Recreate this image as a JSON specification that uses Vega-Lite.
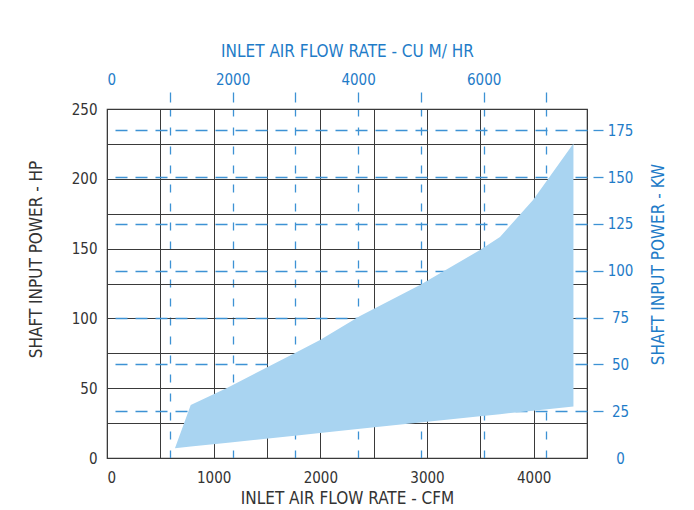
{
  "$schema": "https://vega.github.io/schema/vega-lite/v6.json",
  "width": 480,
  "height": 349,
  "autosize": {"type": "none"},
  "padding": {"left": 107, "top": 109, "right": 107, "bottom": 52},
  "background": "white",
  "config": {
    "font": "DejaVu Sans Condensed, Liberation Sans, sans-serif",
    "view": {"stroke": "#3a3a3a", "strokeWidth": 1.2},
    "axis": {
      "labelFont": "DejaVu Sans Condensed, Liberation Sans, sans-serif",
      "titleFont": "DejaVu Sans Condensed, Liberation Sans, sans-serif",
      "titleFontWeight": "normal",
      "labelFontSize": 15,
      "titleFontSize": 17,
      "zindex": 1
    }
  },
  "datasets": {
    "band": [
      {"cfm": 637, "hp_hi": 7, "hp_lo": 7},
      {"cfm": 785, "hp_hi": 38, "hp_lo": 8.2},
      {"cfm": 1134, "hp_hi": 50.5, "hp_lo": 11.0},
      {"cfm": 1781, "hp_hi": 75.9, "hp_lo": 16.2},
      {"cfm": 1997, "hp_hi": 84.5, "hp_lo": 17.9},
      {"cfm": 2372, "hp_hi": 101.7, "hp_lo": 20.9},
      {"cfm": 2934, "hp_hi": 123.9, "hp_lo": 25.4},
      {"cfm": 3497, "hp_hi": 149, "hp_lo": 29.9},
      {"cfm": 3684, "hp_hi": 158.3, "hp_lo": 31.4},
      {"cfm": 3994, "hp_hi": 184.8, "hp_lo": 33.9},
      {"cfm": 4373, "hp_hi": 225.3, "hp_lo": 36.9}
    ],
    "metric": [
      {"m3h": 0, "kw": 0},
      {"m3h": 7645.5, "kw": 186.4}
    ]
  },
  "layer": [
    {
      "data": {"name": "band"},
      "mark": {"type": "area", "color": "#a9d4f1", "opacity": 1},
      "encoding": {
        "x": {
          "field": "cfm", "type": "quantitative",
          "scale": {"domain": [0, 4500], "nice": false, "zero": false},
          "axis": {
            "orient": "bottom",
            "values": [0, 500, 1000, 1500, 2000, 2500, 3000, 3500, 4000, 4500],
            "format": "d",
            "labelExpr": "datum.value % 1000 == 0 ? datum.label : ''",
            "grid": true, "gridColor": "#3a3a3a", "gridWidth": 1, "gridOpacity": 1,
            "ticks": false, "domain": false,
            "labelPadding": 12, "labelColor": "#333333",
            "title": "INLET AIR FLOW RATE - CFM", "titleColor": "#333333", "titlePadding": 5
          }
        },
        "y": {
          "field": "hp_hi", "type": "quantitative",
          "scale": {"domain": [0, 250], "nice": false},
          "axis": {
            "orient": "left",
            "values": [0, 25, 50, 75, 100, 125, 150, 175, 200, 225, 250],
            "format": "d",
            "labelExpr": "datum.value % 50 == 0 ? datum.label : ''",
            "grid": true, "gridColor": "#3a3a3a", "gridWidth": 1, "gridOpacity": 1,
            "ticks": false, "domain": false,
            "labelPadding": 10, "labelColor": "#333333",
            "title": "SHAFT INPUT POWER - HP", "titleColor": "#333333", "titlePadding": 26,
            "titleY": 150
          }
        },
        "y2": {"field": "hp_lo"}
      }
    },
    {
      "data": {"name": "metric"},
      "mark": {"type": "point", "opacity": 0},
      "encoding": {
        "x": {
          "field": "m3h", "type": "quantitative",
          "scale": {"domain": [0, 7645.5], "nice": false},
          "axis": {
            "orient": "top",
            "values": [0, 1000, 2000, 3000, 4000, 5000, 6000, 7000],
            "format": "d",
            "labelExpr": "datum.value % 2000 == 0 ? datum.label : ''",
            "offset": 7, "tickSize": 10, "tickColor": "#3d92d4", "tickWidth": 1.3,
            "tickOpacity": {"condition": {"test": "datum.value == 0", "value": 0}, "value": 1},
            "grid": true, "gridColor": "#3d92d4", "gridWidth": 1.3, "gridDash": [8, 11],
            "gridOpacity": {"condition": {"test": "datum.value == 0", "value": 0}, "value": 1},
            "domain": false,
            "labelPadding": 5, "labelColor": "#1f7cc8",
            "title": "INLET AIR FLOW RATE - CU M/ HR", "titleColor": "#1f7cc8", "titlePadding": 12
          }
        },
        "y": {
          "field": "kw", "type": "quantitative",
          "scale": {"domain": [0, 186.425], "nice": false},
          "axis": {
            "orient": "right",
            "values": [0, 25, 50, 75, 100, 125, 150, 175],
            "format": "d",
            "offset": 6, "tickSize": 10, "tickColor": "#3d92d4", "tickWidth": 1.3,
            "tickOpacity": {"condition": {"test": "datum.value == 0", "value": 0}, "value": 1},
            "grid": true, "gridColor": "#3d92d4", "gridWidth": 1.3, "gridDash": [12, 8],
            "gridOpacity": {"condition": {"test": "datum.value == 0", "value": 0}, "value": 1},
            "domain": false,
            "labelAlign": "center", "labelPadding": 17, "labelColor": "#1f7cc8",
            "title": "SHAFT INPUT POWER - KW", "titleColor": "#1f7cc8", "titleAngle": 270,
            "titleBaseline": "middle", "titleAlign": "center",
            "titleX": 65, "titleY": 155
          }
        }
      }
    }
  ],
  "resolve": {"scale": {"x": "independent", "y": "independent"}}
}
